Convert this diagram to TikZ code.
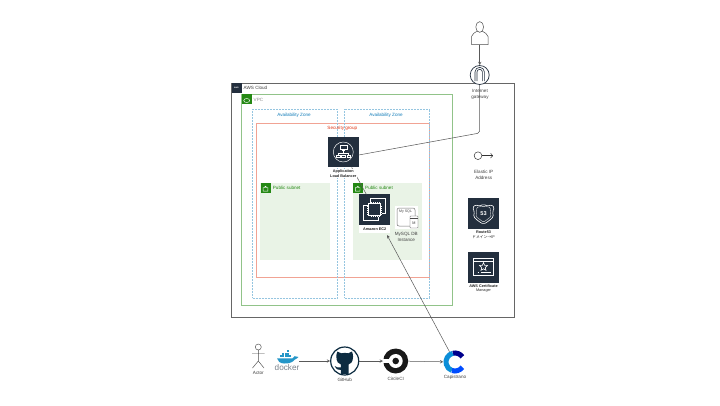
\documentclass[tikz,border=0pt]{standalone}
\usepackage{fontspec}
\usetikzlibrary{arrows.meta}
\setmainfont{Liberation Sans}
\newfontfamily\cjkfont{Noto Sans CJK JP}
\definecolor{awsdark}{HTML}{232F3E}
\definecolor{awsgreen}{HTML}{248814}
\definecolor{subnetfill}{HTML}{E9F3E6}
\definecolor{azblue}{HTML}{147EBA}
\definecolor{sgred}{HTML}{DF3312}
\definecolor{gitdark}{HTML}{0C2B40}
\definecolor{whaleblue}{HTML}{2496C8}
\tikzset{
  cloudbox/.style={draw=black!60, line width=0.8pt},
  vpcbox/.style={draw=awsgreen!50, line width=0.9pt},
  azbox/.style={draw=azblue!45, line width=0.5pt, densely dotted},
  sgbox/.style={draw=sgred!45, line width=0.9pt},
  darkicon/.style={fill=awsdark, minimum size=30.5pt, inner sep=0pt},
  greentag/.style={fill=awsgreen, minimum size=10pt, inner sep=0pt},
  glyph/.style={draw=white, line width=0.45pt},
  conn/.style={draw=black!65, line width=0.5pt, >=stealth},
  lbl/.style={font=\fontsize{4.6}{5.7}\selectfont, text=black!75, align=center, inner sep=0.5pt},
  boldlbl/.style={font=\fontsize{3.8}{4.7}\selectfont\bfseries, text=black!85, align=center, inner sep=0.5pt},
  zonelbl/.style={font=\fontsize{4.6}{5.7}\selectfont, text=azblue},
  subnetlbl/.style={font=\fontsize{4.6}{5.7}\selectfont, text=awsgreen, anchor=west, inner sep=0pt},
}
\begin{document}
\begin{tikzpicture}[x=1pt, y=-1pt]
  \useasboundingbox[fill=white] (0,0) rectangle (720,405);
  % containers
  \draw[cloudbox] (231.5,83) rectangle (514,317.5);
  \draw[vpcbox] (241.7,94.3) rectangle (452.7,305.7);
  \fill[subnetfill] (260.3,182.7) rectangle (330,259.7);
  \fill[subnetfill] (352.7,182.7) rectangle (422,259.7);
  \draw[sgbox] (256.3,123.3) rectangle (429.7,277);
  \draw[azbox] (252.3,109.3) rectangle (337.3,298);
  \draw[azbox] (344.3,109.3) rectangle (429.7,298);

  \node[fill=awsdark, minimum size=10pt, inner sep=0pt] (awstag) at (236.5,88) {};
  \node[font=\fontsize{2.4}{3}\selectfont\bfseries, text=white, inner sep=0pt] (awslogo) at (236.5,87.5) {aws};
  \node[lbl, anchor=west] (awslbl) at (243,88) {AWS Cloud};
  \node[greentag] (vpctag) at (246.7,99.3) {};
  \draw[glyph] (246.7,100.5) ellipse (3pt and 2pt);
  \node[lbl, anchor=west, text=black!45] (vpclbl) at (253,99.5) {VPC};
  \node[zonelbl] (azone) at (294,115) {Availability Zone};
  \node[zonelbl] (aztwo) at (386,115) {Availability Zone};
  \node[font=\fontsize{4.6}{5.7}\selectfont, text=sgred] (sglbl) at (342.3,128.3) {Security group};

  \node[greentag] (subtagone) at (265.5,188) {};
  \draw[glyph] (263.2,187.5) rectangle (267.8,191.2) (264.2,187.5) arc[start angle=180, end angle=0, radius=1.3pt];
  \node[subnetlbl] (subone) at (272.7,187.7) {Public subnet};
  \node[greentag] (subtagtwo) at (357.7,188) {};
  \draw[glyph] (355.4,187.5) rectangle (360,191.2) (356.4,187.5) arc[start angle=180, end angle=0, radius=1.3pt];
  \node[subnetlbl] (subtwo) at (365,187.7) {Public subnet};

  % load balancer
  \node[darkicon] (alb) at (343.3,152) {};
  \begin{scope}[shift={(alb.center)}]
    \draw[glyph] (0,0) circle (10pt);
    \draw[glyph] (-3.5,-7) rectangle (3.5,-2.5) (-1.5,-1.5) -- (1.5,-1.5) (0,-1.5) -- (0,1);
    \draw[glyph] (-5,3) -- (-5,1) -- (5,1) -- (5,3);
    \draw[glyph] (-7,3) rectangle (-3.5,5.5) (-1.7,3) rectangle (1.7,5.5) (3.5,3) rectangle (7,5.5);
  \end{scope}
  % ec2
  \node[darkicon] (ec2) at (374.7,209.7) {};
  \begin{scope}[shift={(ec2.center)}]
    \draw[glyph] (-4,-7) -- (-4,-11) -- (11,-11) -- (11,4) -- (7,4);
    \draw[glyph] (4,7) -- (4,11) -- (-11,11) -- (-11,-4) -- (-7,-4);
    \draw[glyph, line width=0.7pt] (-6,-6) rectangle (6,6);
    \foreach \t in {-4,-2,0,2,4} {
      \draw[glyph, line width=0.3pt] (\t,-6) -- (\t,-7.5) (\t,6) -- (\t,7.5) (-6,\t) -- (-7.5,\t) (6,\t) -- (7.5,\t);
    }
  \end{scope}
  % mysql
  \node[fill=white, minimum width=23pt, minimum height=23pt, inner sep=0pt] (mysql) at (406.5,217.5) {};
  \draw[black!55, line width=0.5pt, rounded corners=2pt] (397,208) rectangle (415,226);
  \node[font=\fontsize{3.6}{4}\selectfont, text=black!70, inner sep=0pt] (mysqltxt) at (405.5,212) {My SQL};
  \draw[black!70, fill=white, line width=0.4pt, rounded corners=0.7pt] (410,216) rectangle (418,228);
  \draw[black!70, line width=0.4pt] (410,218) -- (418,218);
  \node[font=\fontsize{3.8}{4}\selectfont, text=black!80, inner sep=0pt] (mysqlm) at (414,223) {M};

  % right column
  \node[darkicon] (route) at (483.5,213.7) {};
  \begin{scope}[shift={(route.center)}]
    \draw[glyph, line width=0.6pt, rounded corners=1.5pt] (-8,-9) -- (-4,-7.5) -- (0,-9.5) -- (4,-7.5) -- (8,-9) -- (11,-6) -- (9,-2) -- (10,3) -- (5,7.5) -- (0,10.5) -- (-5,7.5) -- (-10,3) -- (-9,-2) -- (-11,-6) -- cycle;
    \draw[glyph, line width=0.3pt, rounded corners=1pt] (-6.5,-6.5) -- (0,-7.5) -- (6.5,-6.5) -- (7.5,3) -- (0,8.5) -- (-7.5,3) -- cycle;
    \node[font=\fontsize{5.6}{6}\selectfont\bfseries, text=white, inner sep=0pt] (routenum) at (0,0) {53};
  \end{scope}
  \node[darkicon] (acm) at (483.5,267.5) {};
  \begin{scope}[shift={(acm.center)}]
    \draw[glyph] (-10,-9) rectangle (10,8) (-10,-6.3) -- (10,-6.3);
    \draw[glyph, line width=0.6pt] (0,-5) -- (1.1,-2.2) -- (4,-2) -- (1.8,0) -- (2.5,2.8) -- (0,1.3) -- (-2.5,2.8) -- (-1.8,0) -- (-4,-2) -- (-1.1,-2.2) -- cycle;
    \draw[glyph] (-3,5) -- (7,5) (-6,5) -- (-4.5,5);
  \end{scope}
  \node[minimum size=7.7pt, inner sep=0pt, circle, draw=black!80, line width=0.5pt] (eip) at (478,155.7) {};
  \coordinate (eipend) at (493,155.7);
  \draw[conn, draw=black!80, -{To[length=2.6pt,width=5pt]}] (eip) -- (eipend);

  % user and gateway
  \node[minimum width=17pt, minimum height=24pt, inner sep=0pt] (user) at (479.7,32.5) {};
  \draw[black!70, fill=white, line width=0.5pt] (471.5,44.5) -- (471.5,36.5) .. controls (472,33.5) and (475,33) .. (476.5,31.5) -- (482.9,31.5) .. controls (484.5,33) and (487.5,33.5) .. (488,36.5) -- (488,44.5) -- cycle;
  \draw[black!70, fill=white, line width=0.5pt] (479.7,27) ellipse (3.9pt and 5.4pt);
  \node[circle, draw=awsdark, fill=white, line width=0.7pt, minimum size=19pt, inner sep=0pt] (igw) at (479.7,75) {};
  \draw[awsdark, line width=0.6pt] (475,81) -- (475,72) arc[start angle=180, end angle=0, radius=4.7pt] -- (484.4,81);
  \draw[awsdark, line width=0.6pt] (477,81) -- (477,72) arc[start angle=180, end angle=0, radius=2.7pt] -- (482.4,81);
  \draw[conn, ->] (user) -- (igw);
  \coordinate (igwbend) at (479.7,133);
  \draw[conn, rounded corners=2pt] (igw) -- (igwbend) -- ([yshift=-3pt]alb.east);
  \draw[conn] (alb) -- (ec2);

  % labels over the connectors
  \node[lbl] (igwlbl) at (480,94.5) {Internet\\gateway};
  \node[boldlbl, fill=white] (alblbl) at (343.3,173.3) {Application\\Load Balancer};
  \node[boldlbl, fill=white, minimum width=30.5pt, minimum height=8pt] (ec2label) at (374.7,229.2) {Amazon EC2};
  \node[lbl] (mysqllbl) at (406.3,237) {MySQL DB\\Instance};
  \node[lbl] (eiplbl) at (483.7,175.2) {Elastic IP\\Address};
  \node[boldlbl] (routelbl) at (483.5,234.7) {Route53\\{\cjkfont\mdseries ドメイン→IP}};
  \node[boldlbl] (acmlbl) at (483.5,288.4) {AWS Certificate\\\mdseries Manager};

  % bottom row
  \node[minimum width=12pt, minimum height=22pt, inner sep=0pt] (actor) at (258.3,357) {};
  \draw[black!70, line width=0.45pt] (258.3,347) circle (3pt) (258.3,350) -- (258.3,361) (252,353.5) -- (264.6,353.5) (252.5,368) -- (258.3,361) -- (264,368);
  \node[lbl] (actorlbl) at (258.3,372.8) {Actor};

  \node[minimum width=24pt, minimum height=12pt, inner sep=0pt] (docker) at (287,358) {};
  \fill[whaleblue] (277,358.3) -- (292.5,358.3) .. controls (293,356) and (296,355.5) .. (298.5,357) .. controls (297,358.5) and (296,359) .. (295,359.5) .. controls (292,363) and (288,363.7) .. (284,363.5) .. controls (280,363.3) and (277.5,361) .. (277,358.3) -- cycle;
  \foreach \i in {0,1,2,3,4} {
    \fill[whaleblue] (279.7+2.4*\i,355.3) rectangle +(2,2);
  }
  \foreach \i in {1,2,3} {
    \fill[whaleblue] (279.7+2.4*\i,352.8) rectangle +(2,2);
  }
  \fill[whaleblue] (286.9,350.4) rectangle +(2,2);
  \node[font=\fontsize{8.2}{9}\selectfont, text=awsdark!60, inner sep=0pt] (dockerword) at (287,368) {docker};

  \node[circle, draw=gitdark, fill=white, line width=1.2pt, minimum size=28pt, inner sep=0pt] (github) at (344.7,361) {};
  \begin{scope}[shift={(github.center)}]
    \fill[gitdark] (-7.3,-9.5) -- (-3.5,-7.7) .. controls (-1.5,-8.3) and (1.5,-8.3) .. (3.5,-7.7) -- (7.3,-9.5) .. controls (8.3,-7) and (8.6,-5) .. (8.3,-4) .. controls (8.3,1) and (6,3) .. (3.8,3.5) -- (3.8,12.8) -- (-3.8,12.8) -- (-3.8,9) .. controls (-7,9.5) and (-8.5,8) .. (-10,5) .. controls (-8,5.5) and (-7,7.5) .. (-3.8,6.5) -- (-3.8,3.5) .. controls (-6,3) and (-8.3,1) .. (-8.3,-4) .. controls (-8.6,-5) and (-8.3,-7) .. (-7.3,-9.5) -- cycle;
  \end{scope}
  \node[lbl] (githublbl) at (344.7,380.3) {GitHub};

  \node[circle, fill=black!90, minimum size=25pt, inner sep=0pt] (circleci) at (395.7,361) {};
  \fill[white] (395.7,361) circle (7pt);
  \fill[white] (382,358.7) rectangle (395.7,363.3);
  \fill[black!90] (395.7,361) circle (3.3pt);
  \node[lbl] (circlecilbl) at (395.7,378.8) {CircleCI};

  \node[circle, minimum size=23pt, inner sep=0pt] (cap) at (455,362) {};
  \draw[line width=5pt, blue!55!black] (455,362) ++(35:9pt) arc[start angle=35, end angle=105, radius=9pt];
  \draw[line width=5pt, cyan!75!blue] (455,362) ++(105:9pt) arc[start angle=105, end angle=250, radius=9pt];
  \draw[line width=5pt, blue!70!cyan] (455,362) ++(250:9pt) arc[start angle=250, end angle=325, radius=9pt];
  \node[lbl] (caplbl) at (455,377.8) {Capistrano};

  \draw[conn, ->] (docker.east |- github.west) -- (github);
  \draw[conn, ->] (github) -- (circleci);
  \draw[conn, ->] (circleci) -- (cap);
  \coordinate (ec2tip) at (387,235);
  \draw[conn, ->] (cap) -- (ec2tip);
\end{tikzpicture}
\end{document}
